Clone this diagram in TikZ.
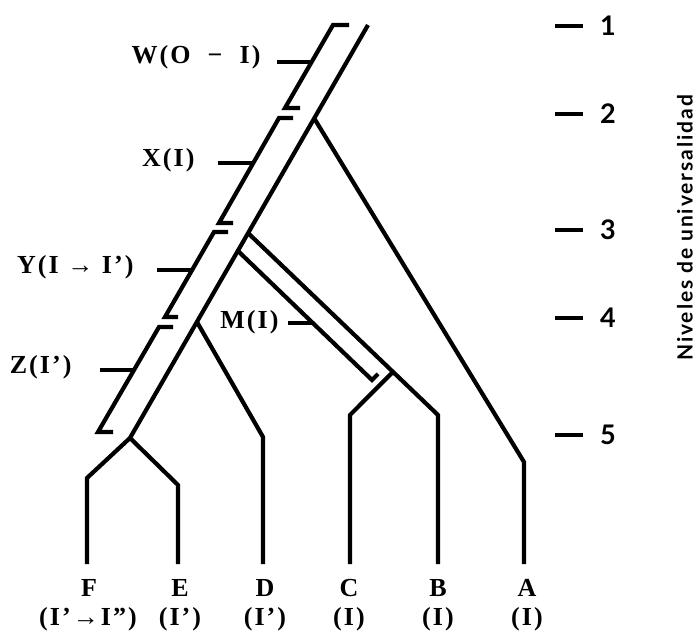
\documentclass[tikz,border=0pt]{standalone}
\usepackage{fontspec}
\setmainfont{Liberation Serif}
\newfontfamily\lvlfont{Lato}
\usetikzlibrary{calc}

\begin{document}
\begin{tikzpicture}[x=1pt,y=-1pt,line width=4.2pt,
  every node/.style={font=\fontsize{26}{28}\selectfont\bfseries\addfontfeature{LetterSpace=8}},
  lvl/.style={font=\lvlfont\fontsize{27}{28}\selectfont\bfseries,anchor=west,inner sep=0pt},
  taxon/.style={inner sep=1pt}]
\useasboundingbox (0,0) rectangle (697,634);
% main trunk and its branch points
\coordinate (top) at (368,25);
\coordinate (jA) at (314,118);
\coordinate (jM) at (248,233);
\coordinate (jM2) at (238,251);
\coordinate (jD) at (197,322);
\coordinate (jFE) at (130,438);
\coordinate (end) at (0,564);
\draw (top) -- (jFE);
% stem segments on the left
\coordinate (w1) at (333,25);  \coordinate (w2) at (285,108);
\coordinate (x1) at (279,118); \coordinate (x2) at (219,223);
\coordinate (y1) at (214,232); \coordinate (y2) at (165,317);
\coordinate (z1) at (159,327); \coordinate (z2) at (98,432);
\draw ([xshift=16pt]w1) -- (w1) -- (w2) -- ([xshift=15pt]w2);
\draw ([xshift=14pt]x1) -- (x1) -- (x2) -- ([xshift=14pt]x2);
\draw ([xshift=14pt]y1) -- (y1) -- (y2) -- ([xshift=13pt]y2);
\draw ([xshift=14pt]z1) -- (z1) -- (z2) -- ([xshift=15pt]z2);
% stem labels
\node[anchor=east] (W) at (266,57) {W(O \ − \ I)};
\node[anchor=east] (X) at (200,160) {X(I)};
\node[anchor=east] (Y) at (139,267) {Y(I → I’)};
\node[anchor=east] (Z) at (77,367) {Z(I’)};
\draw (277,62) -- (312,62);
\draw (218,163) -- (254,163);
\draw (157,270) -- (192,270);
\draw (100,370) -- (134,370);
% M band
\coordinate (bB) at (438,415);
\coordinate (jC) at ($(jM)!0.763!(bB)$);
\coordinate (m2) at (372,380);
\draw (jM) -- (bB) -- (bB |- end);
\draw (jM2) -- (m2) -- ++(6,-6);
\node[anchor=east] (M) at (284,322) {M(I)};
\draw (288,323) -- (313,323);
% branches to the taxa
\coordinate (cB) at (350,415);
\coordinate (dB) at (263,437);
\coordinate (aB) at (524,462);
\coordinate (fB) at (87,478);
\coordinate (eB) at (178,485);
\draw (jC) -- (cB) -- (cB |- end);
\draw (jD) -- (dB) -- (dB |- end);
\draw (jA) -- (aB) -- (aB |- end);
\draw (jFE) -- (fB) -- (fB |- end);
\draw (jFE) -- (eB) -- (eB |- end);
% taxa
\node[taxon] (F) at (89,588) {F};
\node[taxon] (E) at (180,588) {E};
\node[taxon] (D) at (265,588) {D};
\node[taxon] (C) at (349,588) {C};
\node[taxon] (B) at (438,588) {B};
\node[taxon] (A) at (527,588) {A};
\node[taxon] (Fl) at (88,619) {(I’→I”)};
\node[taxon] (El) at (180,619) {(I’)};
\node[taxon] (Dl) at (265,619) {(I’)};
\node[taxon] (Cl) at (349,619) {(I)};
\node[taxon] (Bl) at (438,619) {(I)};
\node[taxon] (Al) at (527,619) {(I)};
% levels
\draw (555,26) -- (583,26);   \node[lvl] (l1) at (598,26) {1};
\draw (555,114) -- (583,114); \node[lvl] (l2) at (598,114) {2};
\draw (555,230) -- (583,230); \node[lvl] (l3) at (598,230) {3};
\draw (555,318) -- (583,318); \node[lvl] (l4) at (598,318) {4};
\draw (555,435) -- (583,435); \node[lvl] (l5) at (598,435) {5};
\node[rotate=90,font=\lvlfont\fontsize{21}{24}\selectfont\bfseries\addfontfeature{LetterSpace=9}] (niv) at (685,228) {Niveles de universalidad};
\end{tikzpicture}
\end{document}
